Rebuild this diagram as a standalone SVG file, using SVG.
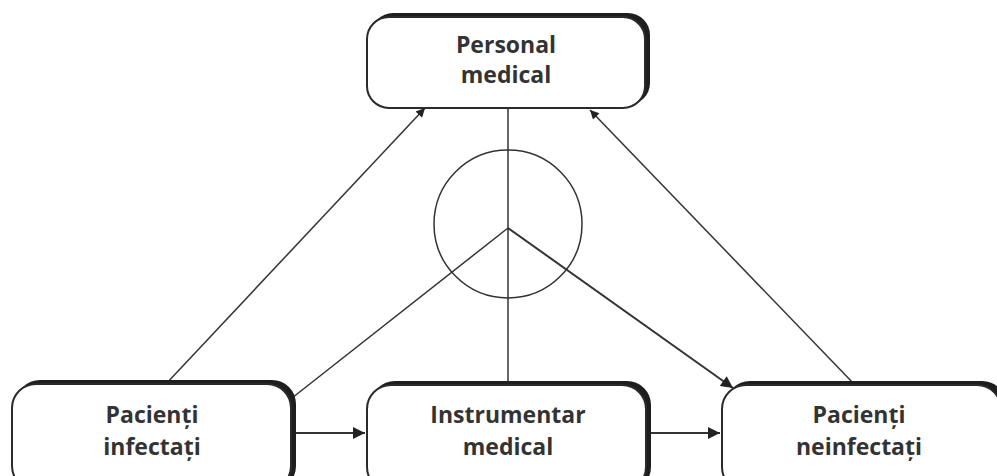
<svg xmlns="http://www.w3.org/2000/svg" width="997" height="476" viewBox="0 0 997 476">
<style>
.sh{fill:#1e1e1e;stroke:none}
.bx{fill:#fff;stroke:#2a2a2a;stroke-width:2}
.t{font-family:"Open Sans","Noto Sans",sans-serif;font-weight:bold;font-size:23px;fill:#333;text-anchor:middle}
.ln{stroke:#333;stroke-width:1.5;fill:none}
.lt{stroke:#333;stroke-width:2;fill:none}
</style>
<defs>
<marker id="ah" viewBox="0 0 10 10" refX="10" refY="5" markerWidth="12" markerHeight="9" markerUnits="userSpaceOnUse" orient="auto"><path d="M0,0 L10,5 L0,10 Z" fill="#222"/></marker>
<marker id="ahb" viewBox="0 0 10 10" refX="10" refY="5" markerWidth="22" markerHeight="12" markerUnits="userSpaceOnUse" orient="auto"><path d="M0,0 L10,5 L0,10 Z" fill="#222"/></marker>
</defs>
<rect width="997" height="476" fill="#fff"/>
<g id="connectors">
<line class="ln" x1="508" y1="108" x2="508" y2="383"/>
<circle class="ln" cx="508" cy="224" r="74"/>
<line class="ln" x1="508" y1="228" x2="292" y2="398"/>
<line class="lt" x1="508" y1="228" x2="733" y2="388" marker-end="url(#ahb)"/>
<line class="ln" x1="165" y1="385" x2="425" y2="108" marker-end="url(#ah)"/>
<line class="ln" x1="855" y1="385" x2="590" y2="110" marker-end="url(#ah)"/>
<line class="lt" x1="295" y1="433" x2="365" y2="433" marker-end="url(#ahb)"/>
<line class="lt" x1="648" y1="433" x2="720" y2="433" marker-end="url(#ahb)"/>
</g>
<g id="personal">
<rect class="sh" x="371" y="13" width="279" height="92" rx="22"/>
<rect class="bx" x="367" y="17" width="278" height="91" rx="22"/>
<text class="t" x="506" y="53">Personal</text>
<text class="t" x="506" y="83">medical</text>
</g>
<g id="infectati">
<rect class="sh" x="16" y="380" width="280" height="110" rx="24"/>
<rect class="bx" x="12" y="384" width="279" height="106" rx="24"/>
<text class="t" x="152" y="423">Pacienți</text>
<text class="t" x="152" y="455">infectați</text>
</g>
<g id="instrumentar">
<rect class="sh" x="371" y="381" width="280" height="110" rx="24"/>
<rect class="bx" x="367" y="385" width="279" height="106" rx="24"/>
<text class="t" x="508" y="423">Instrumentar</text>
<text class="t" x="508" y="455">medical</text>
</g>
<g id="neinfectati">
<rect class="sh" x="726" y="381" width="280" height="110" rx="24"/>
<rect class="bx" x="722" y="385" width="279" height="106" rx="24"/>
<text class="t" x="859" y="423">Pacienți</text>
<text class="t" x="859" y="455">neinfectați</text>
</g>
</svg>
